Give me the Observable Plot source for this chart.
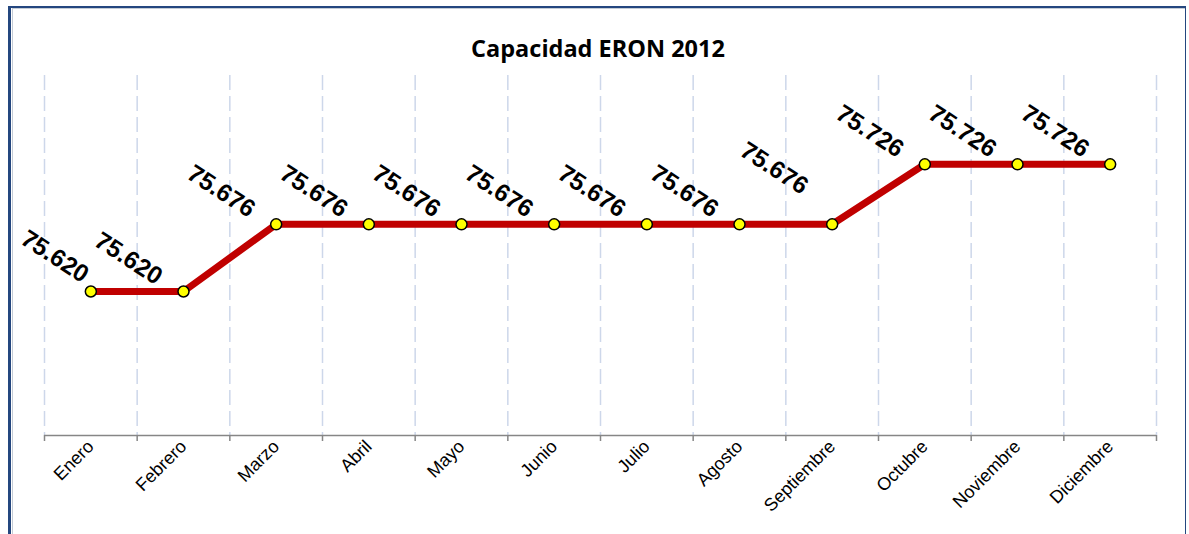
<!DOCTYPE html>
<html><head><meta charset="utf-8">
<script src="https://cdn.jsdelivr.net/npm/d3@7"></script>
<script src="https://cdn.jsdelivr.net/npm/@observablehq/plot@0.6"></script>
<style>
body{margin:0;background:#fff;}
#wrap{position:relative;width:1189px;height:534px;overflow:hidden;font-family:"Liberation Sans",Arial,sans-serif;}
#frame{position:absolute;left:8px;top:6px;width:1174px;height:560px;border-left:3px solid #24477f;border-top:2px solid #24477f;border-right:1.5px solid #24477f;}
#inner{position:absolute;left:12px;top:8px;width:1172px;height:560px;border-left:1px solid #c4ccd6;border-top:1px solid #c4ccd6;}
#title{position:absolute;top:32px;left:0;width:1196px;text-align:center;font:bold 23.5px "Open Sans","Liberation Sans",sans-serif;color:#000;z-index:2;}
#chart{position:absolute;left:0;top:0;width:1189px;height:534px;}
</style>
</head><body>
<div id="wrap">
<div id="frame"></div><div id="inner"></div>
<div id="title">Capacidad ERON 2012</div>
<div id="chart"></div>
</div>
<script>
const months = ["Enero","Febrero","Marzo","Abril","Mayo","Junio","Julio","Agosto","Septiembre","Octubre","Noviembre","Diciembre"];
const values = [75.620,75.620,75.676,75.676,75.676,75.676,75.676,75.676,75.676,75.726,75.726,75.726];
const boundaries = d3.range(months.length + 1);
const centers = months.map((m, i) => i + 0.5);

const data = months.map((m, i) => ({i, month: m, value: values[i]}));
const fmt = d3.format(".3f");
const FONT = "'Liberation Sans', Arial, sans-serif";
const labelStyle = {x: d => d.i + 0.5, y: "value", text: d => fmt(d.value), rotate: 33, fontSize: 24.5, fontWeight: "bold", fontFamily: FONT, fill: "#000"};

const chart = Plot.plot({
  width: 1189,
  height: 534,
  marginTop: 75,
  marginBottom: 99,
  marginLeft: 44,
  marginRight: 33,
  style: {background: "transparent", fontFamily: FONT, overflow: "visible"},
  x: {domain: [0, months.length], axis: null},
  y: {domain: [75.5, 75.8], axis: null},
  marks: [
    Plot.ruleX(boundaries, {x: d => d, stroke: "#cdd7ea", strokeWidth: 1.5, strokeDasharray: "15,6"}),
    Plot.ruleY([75.5], {stroke: "#868686", strokeWidth: 1.5}),
    Plot.axisX(boundaries, {tickSize: 6, tickFormat: () => "", stroke: "#868686", strokeWidth: 1.5}),
    Plot.axisX(centers, {tickSize: 0, tickPadding: 8, tickRotate: -45, fontSize: 18, fontFamily: FONT, fill: "#000", tickFormat: d => months[Math.floor(d)]}),
    Plot.line(data, {x: d => d.i + 0.5, y: "value", stroke: "#c00000", strokeWidth: 7}),
    Plot.dot(data, {x: d => d.i + 0.5, y: "value", r: 5.5, fill: "#ffff00", stroke: "#000", strokeWidth: 1.5}),
    Plot.text(data, {...labelStyle, filter: d => d.month === "Enero", dx: -36, dy: -35}),
    Plot.text(data, {...labelStyle, filter: d => d.month === "Septiembre", dx: -58, dy: -56}),
    Plot.text(data, {...labelStyle, filter: d => d.month !== "Enero" && d.month !== "Septiembre", dx: -55, dy: -33})
  ]
});
document.getElementById("chart").appendChild(chart);
</script>
</body></html>
